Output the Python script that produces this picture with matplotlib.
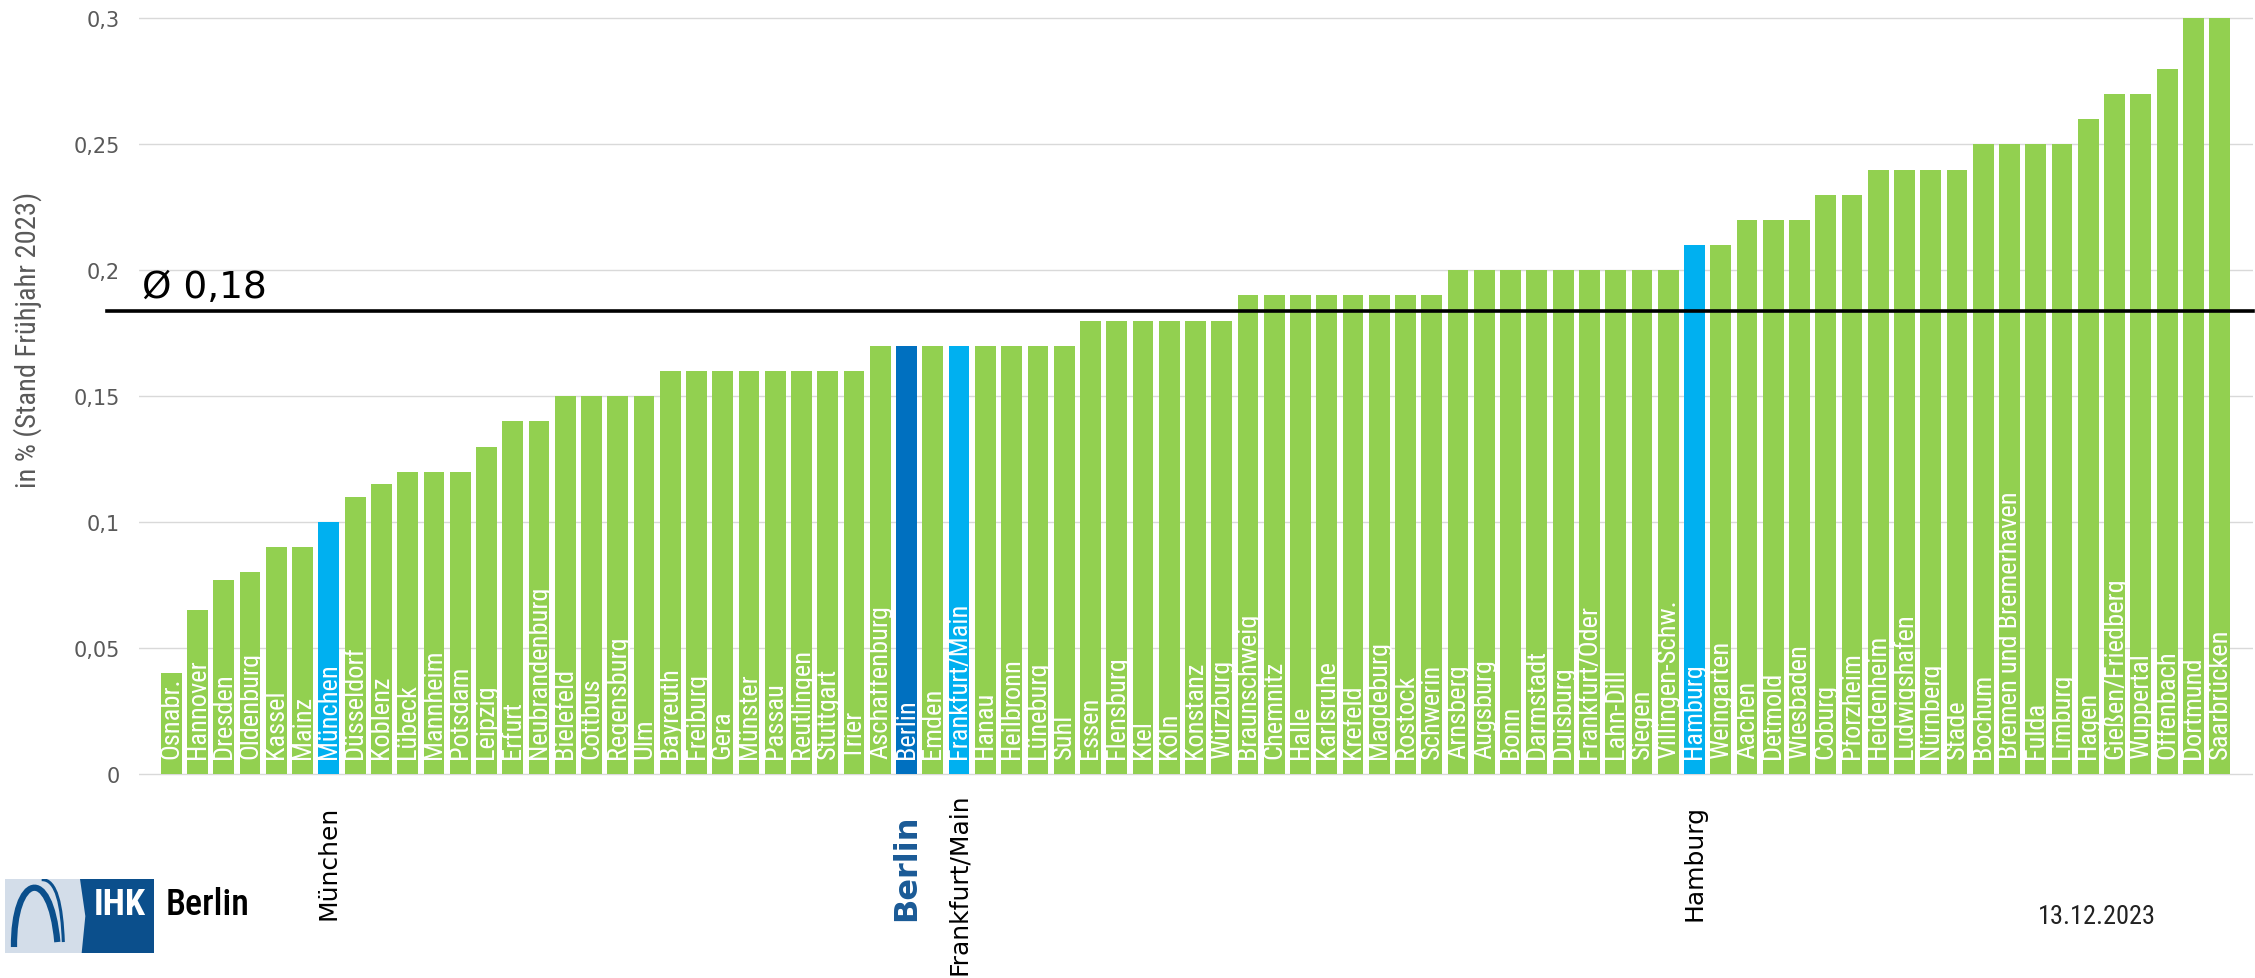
import matplotlib
matplotlib.use("Agg")
import matplotlib.pyplot as plt
import matplotlib.transforms as mtransforms
from matplotlib import font_manager
from matplotlib.patches import Polygon, PathPatch
from matplotlib.path import Path

# data (sorted ascending)
cities = [
    "Osnabr.", "Hannover", "Dresden", "Oldenburg", "Kassel", "Mainz", "München",
    "Düsseldorf", "Koblenz", "Lübeck", "Mannheim", "Potsdam", "Leipzig", "Erfurt",
    "Neubrandenburg", "Bielefeld", "Cottbus", "Regensburg", "Ulm", "Bayreuth",
    "Freiburg", "Gera", "Münster", "Passau", "Reutlingen", "Stuttgart", "Trier",
    "Aschaffenburg", "Berlin", "Emden", "Frankfurt/Main", "Hanau", "Heilbronn",
    "Lüneburg", "Suhl", "Essen", "Flensburg", "Kiel", "Köln", "Konstanz", "Würzburg",
    "Braunschweig", "Chemnitz", "Halle", "Karlsruhe", "Krefeld", "Magdeburg",
    "Rostock", "Schwerin", "Arnsberg", "Augsburg", "Bonn", "Darmstadt", "Duisburg",
    "Frankfurt/Oder", "Lahn-Dill", "Siegen", "Villingen-Schw.", "Hamburg",
    "Weingarten", "Aachen", "Detmold", "Wiesbaden", "Coburg", "Pforzheim",
    "Heidenheim", "Ludwigshafen", "Nürnberg", "Stade", "Bochum",
    "Bremen und Bremerhaven", "Fulda", "Limburg", "Hagen", "Gießen/Friedberg",
    "Wuppertal", "Offenbach", "Dortmund", "Saarbrücken",
]
values = [
    0.04, 0.065, 0.077, 0.08, 0.09, 0.09, 0.10,
    0.11, 0.115, 0.12, 0.12, 0.12, 0.13, 0.14,
    0.14, 0.15, 0.15, 0.15, 0.15, 0.16,
    0.16, 0.16, 0.16, 0.16, 0.16, 0.16, 0.16,
    0.17, 0.17, 0.17, 0.17, 0.17, 0.17,
    0.17, 0.17, 0.18, 0.18, 0.18, 0.18, 0.18, 0.18,
    0.19, 0.19, 0.19, 0.19, 0.19, 0.19,
    0.19, 0.19, 0.20, 0.20, 0.20, 0.20, 0.20,
    0.20, 0.20, 0.20, 0.20, 0.21,
    0.21, 0.22, 0.22, 0.22, 0.23, 0.23,
    0.24, 0.24, 0.24, 0.24, 0.25,
    0.25, 0.25, 0.25, 0.26, 0.27,
    0.27, 0.28, 0.30, 0.30,
]
avg_value = 0.184
avg_label = "Ø 0,18"
light_blue_cities = ["München", "Frankfurt/Main", "Hamburg"]
dark_blue_cities = ["Berlin"]
yticks = [0, 0.05, 0.10, 0.15, 0.20, 0.25, 0.30]
ytick_labels = ["0", "0,05", "0,1", "0,15", "0,2", "0,25", "0,3"]
ylabel = "in % (Stand Frühjahr 2023)"
callouts = ["München", "Berlin", "Frankfurt/Main", "Hamburg"]
date_text = "13.12.2023"

GREEN = "#92D050"
LIGHT_BLUE = "#00B0F0"
DARK_BLUE = "#0070C0"
IHK_BLUE = "#0B4F8C"

available = {f.name for f in font_manager.fontManager.ttflist}
narrow = next((n for n in ["Liberation Sans Narrow", "Roboto Condensed", "Open Sans Condensed"]
               if n in available), "Liberation Sans")

W, H = 2255, 979
fig = plt.figure(figsize=(W / 100, H / 100), dpi=100)

# main axes, placed in pixel units of the reference
ax = fig.add_axes([139 / W, 1 - 780 / H, (2253 - 139) / W, (780 - 14.4) / H])
x = list(range(len(cities)))
colors = [DARK_BLUE if c in dark_blue_cities else LIGHT_BLUE if c in light_blue_cities else GREEN
          for c in cities]
ax.bar(x, values, width=0.79, color=colors, zorder=2)
ax.set_xlim(-1.23, len(cities) - 1 + 1.27)
ax.set_ylim(-0.002, 0.302)
ax.set_yticks(yticks)
ax.set_yticklabels(ytick_labels)
ax.set_xticks([])
ax.yaxis.grid(True, color="#D9D9D9", linewidth=1.0)
ax.set_axisbelow(True)
for s in ax.spines.values():
    s.set_visible(False)
ax.tick_params(axis="y", length=0, pad=14, labelsize=15, labelcolor="#595959")

for i, name in enumerate(cities):
    ax.text(i, 0.0062, name, rotation=90, ha="center", va="bottom", color="white",
            fontsize=19, family=narrow, zorder=3)

# average line, starting a bit left of the plot area
x0 = ax.get_xlim()[0] - (139 - 107) / 26.26
ax.plot([x0, ax.get_xlim()[1]], [avg_value, avg_value], color="black", linewidth=2.6,
        clip_on=False, zorder=4)
ax.annotate(avg_label, xy=(-1.12, avg_value), xytext=(0, 10), textcoords="offset points",
            ha="left", va="baseline", fontsize=27, color="black")

fig.text(28 / W, 1 - 340 / H, ylabel, rotation=90, ha="center", va="center",
         color="#595959", fontsize=20.5, family=narrow)

# city callouts under the axis
trans = mtransforms.blended_transform_factory(ax.transData, fig.transFigure)
callout_y = {"München": 863, "Berlin": 868, "Frankfurt/Main": 884, "Hamburg": 863}
for name in callouts:
    i = cities.index(name)
    if name == "Berlin":
        ax.text(i, 1 - callout_y[name] / H, name, transform=trans, rotation=90, ha="center",
                va="center", fontsize=23, fontweight="bold", color="#1A5A96")
    else:
        ax.text(i, 1 - callout_y[name] / H, name, transform=trans, rotation=90, ha="center",
                va="center", fontsize=18, color="black")

# IHK Berlin logo
lax = fig.add_axes([5 / W, 1 - 954 / H, 149 / W, 74 / H])
lax.set_xlim(15, 462)
lax.set_ylim(373, 150)
lax.axis("off")
lax.add_patch(Polygon([(15, 150), (462, 150), (462, 373), (15, 373)], closed=True,
                      facecolor="#D3DDE9", edgecolor="none"))
lax.add_patch(Polygon([(240, 150), (462, 150), (462, 373), (245, 373), (256, 262)], closed=True,
                      facecolor=IHK_BLUE, edgecolor="none"))
arch1 = Path([(42, 355), (40, 140), (150, 100), (172, 340)],
             [Path.MOVETO, Path.CURVE4, Path.CURVE4, Path.CURVE4])
arch2 = Path([(125, 152), (170, 150), (186, 230), (190, 340)],
             [Path.MOVETO, Path.CURVE4, Path.CURVE4, Path.CURVE4])
lax.add_patch(PathPatch(arch1, facecolor="none", edgecolor=IHK_BLUE, linewidth=4.5))
lax.add_patch(PathPatch(arch2, facecolor="none", edgecolor=IHK_BLUE, linewidth=2.2))
lax.text(360, 225, "IHK", color="white", fontweight="bold", fontsize=26, family=narrow,
         ha="center", va="center")
fig.text(166 / W, 1 - 905 / H, "Berlin", fontsize=26, family=narrow, fontweight="medium",
         ha="left", va="center", color="black")

fig.text(2097 / W, 1 - 917 / H, date_text, ha="center", va="center", fontsize=19,
         family=narrow, color="#222222")

fig.savefig("out.png", dpi=100)
